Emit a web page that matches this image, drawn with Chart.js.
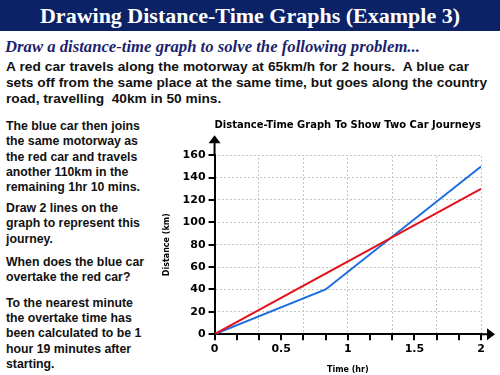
<!DOCTYPE html>
<html>
<head>
<meta charset="utf-8">
<script src="https://cdn.jsdelivr.net/npm/chart.js"></script>
<style>
  html, body { margin: 0; padding: 0; background: #fff; }
  body { width: 500px; height: 375px; position: relative; overflow: hidden; }
  #header {
    position: absolute; left: 0; top: 0; width: 500px; height: 31px;
    background: #0c2266; color: #fff; text-align: center;
    font: bold 22px "Liberation Serif", serif; line-height: 31px;
  }
  #sub {
    position: absolute; left: 5px; top: 37px; color: #1c1f6e;
    font: italic bold 16.7px "Liberation Serif", serif; white-space: nowrap;
  }
  .intro { position: absolute; left: 6px; font: bold 13.7px "Liberation Sans", Arial, sans-serif;
    color: #111; white-space: nowrap; text-align: justify; text-align-last: justify; }
  #side { position: absolute; left: 6px; top: 119px; white-space: nowrap;
    font: bold 12.3px "Liberation Sans", Arial, sans-serif; color: #111; line-height: 15.3px; }
  #side p { margin: 0; }
  #chart-box { position: absolute; left: 160px; top: 112px; width: 340px; height: 263px; }
  #overlay { position: absolute; left: 0; top: 0; width: 340px; height: 263px; pointer-events: none; z-index: 2; }
  #err { position: absolute; left: 170px; top: 30px; font: 9px sans-serif; color: #c00; z-index: 5; }
</style>
</head>
<body>
<div id="header">Drawing Distance-Time Graphs (Example 3)</div>
<div id="sub">Draw a distance-time graph to solve the following problem...</div>
<div class="intro" style="top:59px;width:463px">A red car travels along the motorway at 65km/h for 2 hours.&nbsp; A blue car</div>
<div class="intro" style="top:75px;width:481px">sets off from the same place at the same time, but goes along the country</div>
<div class="intro" style="top:91px;text-align-last:left">road, travelling&nbsp; 40km in 50 mins.</div>
<div id="side">
  <p style="margin-bottom:5.7px">The blue car then joins<br>the same motorway as<br>the red car and travels<br>another 110km in the<br>remaining 1hr 10 mins.</p>
  <p style="margin-bottom:7.7px">Draw 2 lines on the<br>graph to represent this<br>journey.</p>
  <p style="margin-bottom:10.3px">When does the blue car<br>overtake the red car?</p>
  <p>To the nearest minute<br>the overtake time has<br>been calculated to be 1<br>hour 19 minutes after<br>starting.</p>
</div>
<div id="chart-box"><canvas id="chart"></canvas><canvas id="overlay" width="340" height="263"></canvas></div>
<div id="err"></div>
<script>
// journey data (time in hours, distance in km)
const redTimes = [0, 2];
const redDist = [0, 130];
const blueTimes = [0, 0.8333, 2];
const blueDist = [0, 40, 150];
const xMin = 0, xMax = 2, xStep = 1 / 6;
const yMin = 0, yMax = 160, yStep = 20;
const xLabels = [0, 0.5, 1, 1.5, 2];

const toPoints = (xs, ys) => xs.map((x, i) => ({ x: x, y: ys[i] }));

const errBox = document.getElementById("err");
const report = e => { errBox.textContent += " " + (e && e.message ? e.message : String(e)); };
window.addEventListener("error", ev => report(ev.error || ev.message));

const canvas = document.getElementById("chart");
const ctx = canvas.getContext("2d");
const overlay = document.getElementById("overlay");

// dotted grid: a small checker pattern used as the line colour
const tile = document.createElement("canvas");
tile.width = 4;
tile.height = 4;
const tctx = tile.getContext("2d");
tctx.fillStyle = "#c4c4c4";
tctx.fillRect(0, 0, 2, 2);
tctx.fillRect(2, 2, 2, 2);
const dotted = ctx.createPattern(tile, "repeat");

// tick marks and axis arrows, placed from the chart's own scales
function drawMarks(chart) {
    if (!chart || !chart.chartArea || !chart.scales.x) return;
    const c = overlay.getContext("2d");
    const a = chart.chartArea;
    const sx = chart.scales.x;
    const sy = chart.scales.y;
    c.clearRect(0, 0, overlay.width, overlay.height);
    c.strokeStyle = "#000";
    c.fillStyle = "#000";
    c.lineWidth = 2;
    c.beginPath();
    sx.ticks.forEach(t => {
        const px = Math.round(sx.getPixelForValue(t.value));
        c.moveTo(px, a.bottom);
        c.lineTo(px, a.bottom + 6);
    });
    sy.ticks.forEach(t => {
        const py = Math.round(sy.getPixelForValue(t.value));
        c.moveTo(a.left - 6, py);
        c.lineTo(a.left, py);
    });
    c.moveTo(a.left, a.top);
    c.lineTo(a.left, a.top - 14);
    c.moveTo(a.right, a.bottom);
    c.lineTo(a.right + 8, a.bottom);
    c.stroke();
    c.beginPath();
    c.moveTo(a.left, a.top - 20);
    c.lineTo(a.left - 6, a.top - 12);
    c.lineTo(a.left + 6, a.top - 12);
    c.closePath();
    c.fill();
    c.beginPath();
    c.moveTo(a.right + 14, a.bottom);
    c.lineTo(a.right + 6, a.bottom - 6);
    c.lineTo(a.right + 6, a.bottom + 6);
    c.closePath();
    c.fill();
}

const axisMarks = {
    id: "axisMarks",
    afterDraw(chart) {
        try { drawMarks(chart); } catch (e) { report(e); }
    }
};

let chart = null;
try {
    chart = new Chart(ctx, {
        type: "line",
        data: {
            datasets: [
                { label: "Red car", data: toPoints(redTimes, redDist), borderColor: "#e3121b", borderWidth: 2, pointRadius: 0 },
                { label: "Blue car", data: toPoints(blueTimes, blueDist), borderColor: "#1b6de0", borderWidth: 2, pointRadius: 0 }
            ]
        },
        options: {
            responsive: true,
            maintainAspectRatio: false,
            animation: false,
            layout: { padding: { left: 2, right: 19, top: 5, bottom: 0 } },
            plugins: {
                legend: { display: false },
                tooltip: { enabled: false },
                title: {
                    display: true,
                    fullSize: false,
                    text: "Distance-Time Graph To Show Two Car Journeys",
                    color: "#000",
                    font: { family: "DejaVu Sans", size: 10.2, weight: "bold" },
                    padding: { top: 2, bottom: 24 }
                }
            },
            scales: {
                x: {
                    type: "linear",
                    min: xMin, max: xMax,
                    ticks: {
                        stepSize: xStep,
                        autoSkip: false,
                        maxRotation: 0,
                        color: "#000",
                        font: { family: "DejaVu Sans", size: 11, weight: "bold" },
                        padding: 2,
                        callback: v => {
                            const hit = xLabels.find(l => Math.abs(l - v) < 1e-6);
                            return hit === undefined ? "" : String(hit);
                        }
                    },
                    grid: {
                        color: c => (c.index % 2 === 0 ? dotted : "rgba(0,0,0,0)"),
                        tickColor: "rgba(0,0,0,0)",
                        tickLength: 6
                    },
                    border: { color: "#000", width: 2 },
                    title: { display: true, text: "Time (hr)", color: "#000",
                        font: { family: "DejaVu Sans", size: 8, weight: "bold" }, padding: { top: 8, bottom: 0 } }
                },
                y: {
                    min: yMin, max: yMax,
                    ticks: {
                        stepSize: yStep,
                        color: "#000",
                        font: { family: "DejaVu Sans", size: 11, weight: "bold" },
                        padding: 3
                    },
                    grid: {
                        color: dotted,
                        tickColor: "rgba(0,0,0,0)",
                        tickLength: 6
                    },
                    border: { color: "#000", width: 2 },
                    title: { display: true, text: "Distance (km)", color: "#000",
                        font: { family: "DejaVu Sans", size: 8, weight: "bold" }, padding: { top: 0, bottom: 8 } }
                }
            }
        },
        plugins: [axisMarks]
    });
} catch (e) {
    report(e);
}

if (!chart) chart = Chart.getChart(canvas);
try { drawMarks(chart); } catch (e) { report(e); }
requestAnimationFrame(() => { try { drawMarks(Chart.getChart(canvas)); } catch (e) { report(e); } });
</script>
</body>
</html>
